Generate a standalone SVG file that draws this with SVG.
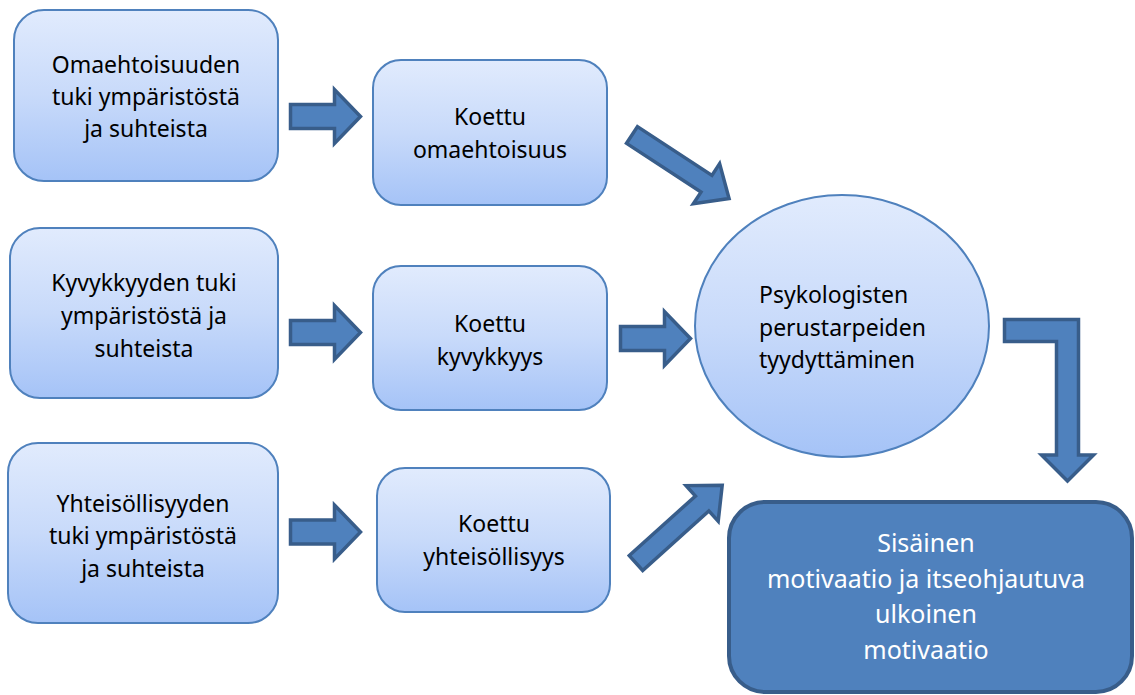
<svg xmlns="http://www.w3.org/2000/svg" width="1135" height="695" viewBox="0 0 1135 695">
  <defs>
    <linearGradient id="g" x1="0" y1="0" x2="0" y2="1">
      <stop offset="0" stop-color="#E1EBFD"/>
      <stop offset="0.5" stop-color="#C8DAFA"/>
      <stop offset="1" stop-color="#A5C3F7"/>
    </linearGradient>
    <style>
      .box{fill:url(#g);stroke:#4F81BD;stroke-width:2}
      .dark{fill:#4F81BD;stroke:#385D8A;stroke-width:4}
      .arr{fill:#4F81BD;stroke:#385D8A;stroke-width:3.5;stroke-linejoin:miter}
      text{font-family:"Noto Sans","Open Sans","Liberation Sans",sans-serif;font-size:23px;fill:#000}
      .c{text-anchor:middle}
      .w{fill:#fff;font-size:25px}
    </style>
    <path id="ha" d="M0,-12 H44 V-27 L70,0 L44,27 V12 H0 Z"/>
    <path id="da" d="M0,-10 H89 V-24 L116,0 L89,24 V10 H0 Z"/>
  </defs>

  <g id="connectors">
    <use href="#ha" class="arr" transform="translate(290.5,116.5)"/>
    <use href="#ha" class="arr" transform="translate(290.5,332.5)"/>
    <use href="#ha" class="arr" transform="translate(290.5,532)"/>
    <use href="#ha" class="arr" transform="translate(620.5,338.5)"/>
    <use href="#da" class="arr" transform="translate(632,135) rotate(33.2)"/>
    <use href="#da" class="arr" transform="translate(636,563) rotate(-42)"/>
    <path class="arr" d="M1004.5,319.5 H1078.5 V455 H1093.5 L1067.5,481 L1041.5,455 H1056.5 V341.5 H1004.5 Z"/>
  </g>

  <g id="n1">
    <rect class="box" x="14" y="10" width="264" height="171" rx="30"/>
    <text class="c" x="146" y="73">Omaehtoisuuden</text>
    <text class="c" x="146" y="105">tuki ympäristöstä</text>
    <text class="c" x="146" y="137">ja suhteista</text>
  </g>
  <g id="n2">
    <rect class="box" x="373" y="60" width="234" height="145" rx="28"/>
    <text class="c" x="490" y="125">Koettu</text>
    <text class="c" x="490" y="158">omaehtoisuus</text>
  </g>
  <g id="n3">
    <rect class="box" x="10" y="228" width="268" height="170" rx="30"/>
    <text class="c" x="144" y="291">Kyvykkyyden tuki</text>
    <text class="c" x="144" y="324">ympäristöstä ja</text>
    <text class="c" x="144" y="357">suhteista</text>
  </g>
  <g id="n4">
    <rect class="box" x="373" y="266" width="234" height="144" rx="28"/>
    <text class="c" x="490" y="332">Koettu</text>
    <text class="c" x="490" y="365">kyvykkyys</text>
  </g>
  <g id="n5">
    <rect class="box" x="8" y="443" width="270" height="180" rx="30"/>
    <text class="c" x="143" y="512">Yhteisöllisyyden</text>
    <text class="c" x="143" y="544">tuki ympäristöstä</text>
    <text class="c" x="143" y="577">ja suhteista</text>
  </g>
  <g id="n6">
    <rect class="box" x="377" y="468" width="233" height="144" rx="28"/>
    <text class="c" x="494" y="532">Koettu</text>
    <text class="c" x="494" y="565">yhteisöllisyys</text>
  </g>
  <g id="n7">
    <ellipse class="box" cx="842" cy="326" rx="147" ry="131"/>
    <text x="759" y="303">Psykologisten</text>
    <text x="759" y="336">perustarpeiden</text>
    <text x="759" y="368">tyydyttäminen</text>
  </g>
  <g id="n8">
    <rect class="dark" x="729" y="502" width="403" height="190" rx="36"/>
    <text class="c w" x="926" y="552">Sisäinen</text>
    <text class="c w" x="926" y="588">motivaatio ja itseohjautuva</text>
    <text class="c w" x="926" y="623">ulkoinen</text>
    <text class="c w" x="926" y="659">motivaatio</text>
  </g>
</svg>
